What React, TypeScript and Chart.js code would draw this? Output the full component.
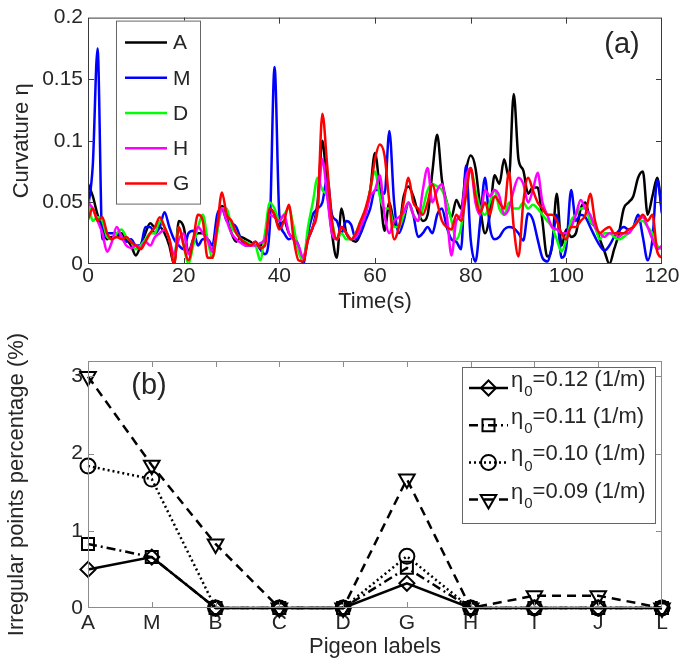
import React, { useEffect, useRef } from 'react';
import { Chart, registerables } from 'chart.js';
Chart.register(...registerables);

const FONT = "'Liberation Sans', Arial, Helvetica, sans-serif";
const TEXT = '#262626';

// ---------- Panel (a) data ----------
const timeSeconds = Array.from({ length: 121 }, (_, i) => i);
const timeTicks = [0, 20, 40, 60, 80, 100, 120];
const curvTicks = [0, 0.05, 0.1, 0.15, 0.2];
const seriesNames = ['A', 'M', 'D', 'H', 'G'];
const seriesColors = ['#000000', '#0000ff', '#00ff00', '#ff00ff', '#ff0000'];

const curvA = [0.065,0.055,0.04,0.03,0.02,0.022,0.022,0.025,0.02,0.015,
 0.007,0.015,0.025,0.033,0.03,0.03,0.025,0.015,0.0,0.035,
 0.03,0.01,0.02,0.025,0.025,0.02,0.01,0.035,0.047,0.04,
 0.025,0.018,0.022,0.02,0.018,0.015,0.015,0.022,0.045,0.04,
 0.03,0.035,0.025,0.02,0.012,0.005,0.02,0.03,0.05,0.1,
 0.06,0.025,0.005,0.045,0.025,0.02,0.018,0.025,0.04,0.06,
 0.09,0.06,0.027,0.05,0.033,0.03,0.055,0.063,0.055,0.042,
 0.035,0.04,0.075,0.105,0.068,0.05,0.038,0.052,0.045,0.075,
 0.088,0.078,0.046,0.025,0.04,0.072,0.065,0.085,0.07,0.138,
 0.085,0.076,0.057,0.062,0.062,0.035,0.006,0.014,0.057,0.015,
 0.028,0.022,0.025,0.045,0.05,0.035,0.03,0.02,0.01,0.0,
 0.012,0.025,0.045,0.05,0.055,0.07,0.075,0.04,0.055,0.07,
 0.042];

const curvM = [0.045,0.08,0.175,0.02,0.025,0.025,0.025,0.022,0.018,0.02,
 0.015,0.015,0.03,0.03,0.025,0.03,0.042,0.03,0.02,0.015,
 0.012,0.025,0.027,0.015,0.02,0.02,0.015,0.04,0.045,0.035,
 0.033,0.03,0.02,0.015,0.015,0.018,0.012,0.008,0.03,0.16,
 0.04,0.025,0.02,0.022,0.015,0.0,0.025,0.04,0.045,0.05,
 0.07,0.04,0.035,0.025,0.035,0.032,0.02,0.025,0.035,0.045,
 0.06,0.06,0.057,0.108,0.05,0.025,0.035,0.05,0.04,0.022,
 0.025,0.03,0.025,0.04,0.045,0.03,0.02,0.018,0.012,0.08,
 0.02,0.002,0.035,0.07,0.03,0.02,0.022,0.028,0.03,0.029,
 0.025,0.019,0.041,0.036,0.02,0.005,0.002,0.015,0.04,0.005,
 0.014,0.06,0.035,0.04,0.038,0.03,0.022,0.015,0.011,0.015,
 0.022,0.027,0.03,0.028,0.03,0.04,0.022,0.003,0.02,0.068,
 0.041];

const curvD = [0.053,0.035,0.038,0.035,0.022,0.02,0.025,0.028,0.022,0.018,
 0.012,0.015,0.02,0.025,0.025,0.035,0.03,0.02,0.005,0.03,
 0.015,0.0,0.015,0.03,0.04,0.02,0.005,0.025,0.045,0.045,
 0.03,0.025,0.02,0.018,0.016,0.015,0.003,0.025,0.05,0.045,
 0.035,0.04,0.045,0.03,0.01,0.003,0.03,0.05,0.07,0.06,
 0.055,0.035,0.02,0.025,0.02,0.02,0.025,0.035,0.04,0.06,
 0.075,0.055,0.045,0.045,0.03,0.03,0.04,0.05,0.04,0.035,
 0.045,0.06,0.065,0.063,0.06,0.05,0.035,0.02,0.03,0.06,
 0.078,0.06,0.045,0.04,0.05,0.06,0.045,0.04,0.05,0.045,
 0.045,0.05,0.045,0.048,0.045,0.04,0.035,0.03,0.02,0.01,
 0.02,0.035,0.04,0.045,0.045,0.035,0.03,0.02,0.025,0.025,
 0.022,0.02,0.022,0.025,0.03,0.035,0.035,0.03,0.025,0.015,
 0.012];

const curvH = [0.05,0.045,0.035,0.025,0.01,0.018,0.03,0.022,0.015,0.013,
 0.015,0.013,0.018,0.015,0.022,0.025,0.028,0.02,0.008,0.02,
 0.025,0.008,0.02,0.03,0.025,0.02,0.01,0.03,0.045,0.035,
 0.025,0.02,0.017,0.015,0.015,0.015,0.017,0.02,0.04,0.038,
 0.035,0.04,0.025,0.02,0.015,0.005,0.02,0.03,0.045,0.085,
 0.055,0.025,0.02,0.03,0.025,0.02,0.022,0.03,0.04,0.055,
 0.06,0.072,0.04,0.025,0.035,0.038,0.042,0.05,0.04,0.035,
 0.06,0.078,0.05,0.06,0.065,0.04,0.007,0.035,0.04,0.07,
 0.078,0.05,0.04,0.06,0.055,0.06,0.055,0.04,0.045,0.06,
 0.07,0.065,0.05,0.06,0.074,0.05,0.04,0.03,0.028,0.025,
 0.025,0.03,0.04,0.052,0.045,0.04,0.03,0.025,0.022,0.025,
 0.025,0.022,0.025,0.025,0.03,0.035,0.038,0.03,0.02,0.012,
 0.015];

const curvG = [0.036,0.045,0.035,0.038,0.025,0.02,0.022,0.02,0.022,0.018,
 0.015,0.012,0.018,0.025,0.03,0.038,0.03,0.02,0.0,0.03,
 0.015,0.003,0.02,0.04,0.035,0.005,0.005,0.03,0.058,0.04,
 0.035,0.025,0.02,0.017,0.015,0.018,0.013,0.015,0.045,0.04,
 0.028,0.035,0.048,0.02,0.003,0.002,0.02,0.03,0.045,0.122,
 0.08,0.035,0.02,0.03,0.025,0.02,0.025,0.035,0.045,0.06,
 0.085,0.097,0.088,0.05,0.02,0.03,0.05,0.07,0.05,0.045,
 0.04,0.05,0.065,0.05,0.035,0.03,0.028,0.04,0.035,0.055,
 0.078,0.055,0.042,0.05,0.04,0.055,0.05,0.045,0.075,0.03,
 0.006,0.05,0.07,0.06,0.05,0.045,0.04,0.04,0.035,0.025,
 0.02,0.03,0.03,0.035,0.04,0.057,0.035,0.025,0.028,0.03,
 0.025,0.025,0.025,0.028,0.03,0.035,0.04,0.035,0.04,0.01,
 0.005];

const seriesValues = [curvA, curvM, curvD, curvH, curvG];

// ---------- Panel (b) data ----------
const pigeonLabels = ['A', 'M', 'B', 'C', 'D', 'G', 'H', 'I', 'J', 'L'];
const pctTicks = [0, 1, 2, 3];
const eta012 = [0.5, 0.66, 0, 0, 0, 0.32, 0, 0, 0, 0];
const eta011 = [0.83, 0.66, 0, 0, 0, 0.52, 0, 0, 0, 0];
const eta010 = [1.84, 1.67, 0, 0, 0, 0.67, 0, 0, 0, 0];
const eta009 = [3.0, 1.85, 0.83, 0, 0, 1.67, 0, 0.16, 0.16, 0];
const etaLabels = ['0.12', '0.11', '0.10', '0.09'];
const etaValues = [eta012, eta011, eta010, eta009];
const etaStyles = [
  { dash: [] as number[], shape: 'rectRot', r: 7.5, rot: 0 },
  { dash: [9, 4, 2, 4], shape: 'rect', r: 8.5, rot: 0 },
  { dash: [2, 3], shape: 'circle', r: 7.5, rot: 0 },
  { dash: [9, 6], shape: 'triangle', r: 9, rot: 180 },
];

function drawMarker(ctx: CanvasRenderingContext2D, shape: string, x: number, y: number, r: number) {
  ctx.beginPath();
  if (shape === 'rectRot') {
    ctx.moveTo(x, y - r); ctx.lineTo(x + r, y); ctx.lineTo(x, y + r); ctx.lineTo(x - r, y); ctx.closePath();
  } else if (shape === 'rect') {
    const s = r * Math.SQRT1_2;
    ctx.rect(x - s, y - s, 2 * s, 2 * s);
  } else if (shape === 'circle') {
    ctx.arc(x, y, r, 0, Math.PI * 2);
  } else {
    const w = r * Math.sqrt(3) / 2;
    ctx.moveTo(x, y + r); ctx.lineTo(x + w, y - r / 2); ctx.lineTo(x - w, y - r / 2); ctx.closePath();
  }
  ctx.stroke();
}

function framePlugin(color: string, tickLen: number, xTickPixels: (c: any) => number[], yTickPixels: (c: any) => number[]) {
  return {
    id: 'frame',
    afterDatasetsDraw(chart: any) {
      const { ctx, chartArea: a } = chart;
      ctx.save();
      ctx.strokeStyle = color;
      ctx.lineWidth = 1;
      ctx.setLineDash([]);
      ctx.strokeRect(a.left + 0.5, a.top + 0.5, a.width - 1, a.height - 1);
      ctx.beginPath();
      for (const px of xTickPixels(chart)) {
        const x = Math.round(px) + 0.5;
        ctx.moveTo(x, a.bottom); ctx.lineTo(x, a.bottom - tickLen);
        ctx.moveTo(x, a.top); ctx.lineTo(x, a.top + tickLen);
      }
      for (const py of yTickPixels(chart)) {
        const y = Math.round(py) + 0.5;
        ctx.moveTo(a.left, y); ctx.lineTo(a.left + tickLen, y);
        ctx.moveTo(a.right, y); ctx.lineTo(a.right - tickLen, y);
      }
      ctx.stroke();
      ctx.restore();
    },
  };
}

const topLegendPlugin = {
  id: 'topLegend',
  afterDraw(chart: any) {
    const { ctx, chartArea: a } = chart;
    ctx.save();
    ctx.fillStyle = '#ffffff';
    ctx.strokeStyle = '#666666';
    ctx.lineWidth = 1;
    const bx = a.left + 28, by = a.top + 3, bw = 84, bh = 183;
    ctx.fillRect(bx, by, bw, bh);
    ctx.strokeRect(bx + 0.5, by + 0.5, bw, bh);
    ctx.font = `21px ${FONT}`;
    ctx.textBaseline = 'middle';
    ctx.textAlign = 'left';
    seriesNames.forEach((name, i) => {
      const y = a.top + 25 + i * 35.25;
      ctx.strokeStyle = seriesColors[i];
      ctx.lineWidth = 2.5;
      ctx.beginPath(); ctx.moveTo(a.left + 37, y); ctx.lineTo(a.left + 79, y); ctx.stroke();
      ctx.fillStyle = TEXT;
      ctx.fillText(name, a.left + 85, y + 1);
    });
    ctx.font = `29px ${FONT}`;
    ctx.textAlign = 'center';
    ctx.fillStyle = TEXT;
    ctx.fillText('(a)', a.right - 40, a.top + 27);
    ctx.restore();
  },
};

const bottomLegendPlugin = {
  id: 'bottomLegend',
  afterDraw(chart: any) {
    const { ctx, chartArea: a } = chart;
    ctx.save();
    const bx = a.left + 374, by = a.top + 6, bw = 193, bh = 156;
    ctx.fillStyle = '#ffffff';
    ctx.fillRect(bx, by, bw, bh);
    ctx.strokeStyle = '#666666';
    ctx.lineWidth = 1;
    ctx.strokeRect(bx + 0.5, by + 0.5, bw, bh);
    etaLabels.forEach((lab, i) => {
      const st = etaStyles[i];
      const ly = a.top + 27 + i * 37.2;
      ctx.strokeStyle = '#000';
      ctx.lineWidth = 2.5;
      ctx.setLineDash(st.dash);
      ctx.beginPath(); ctx.moveTo(bx + 7, ly); ctx.lineTo(bx + 46, ly); ctx.stroke();
      ctx.setLineDash([]);
      ctx.lineWidth = 2;
      drawMarker(ctx, st.shape, bx + 26.5, ly, st.r);
      ctx.fillStyle = TEXT;
      ctx.textBaseline = 'middle';
      ctx.textAlign = 'left';
      let tx = bx + 49;
      ctx.font = `22px ${FONT}`;
      ctx.fillText('η', tx, ly - 7);
      tx += ctx.measureText('η').width + 1;
      ctx.font = `15px ${FONT}`;
      ctx.fillText('0', tx, ly + 4);
      tx += ctx.measureText('0').width;
      ctx.font = `22px ${FONT}`;
      ctx.fillText(`=${lab} (1/m)`, tx, ly - 8);
    });
    ctx.font = `29px ${FONT}`;
    ctx.textAlign = 'center';
    ctx.textBaseline = 'middle';
    ctx.fillStyle = TEXT;
    ctx.fillText('(b)', a.left + 61, a.top + 25);
    ctx.restore();
  },
};

function topConfig(): any {
  return {
    type: 'line',
    data: {
      datasets: seriesValues.map((vals, i) => ({
        label: seriesNames[i],
        data: vals.map((v, j) => ({ x: timeSeconds[j], y: v })),
        borderColor: seriesColors[i],
        backgroundColor: seriesColors[i],
        borderWidth: 2.5,
        pointRadius: 0,
        cubicInterpolationMode: 'monotone',
        order: seriesValues.length - i,
        clip: 0,
        fill: false,
      })),
    },
    options: {
      animation: false,
      responsive: true,
      maintainAspectRatio: false,
      devicePixelRatio: 1,
      layout: { padding: { top: 16, right: 24, left: 0, bottom: 4 } },
      plugins: { legend: { display: false }, tooltip: { enabled: false } },
      scales: {
        x: {
          type: 'linear', min: 0, max: 120,
          afterBuildTicks: (s: any) => { s.ticks = timeTicks.map((v) => ({ value: v })); },
          afterFit: (s: any) => { s.height = 52; },
          grid: { display: false, drawTicks: false },
          border: { display: false },
          ticks: { font: { family: FONT, size: 21 }, color: TEXT, padding: 0, maxRotation: 0, autoSkip: false },
          title: { display: true, text: 'Time(s)', font: { family: FONT, size: 22 }, color: TEXT, padding: { top: 0, bottom: 1 } },
        },
        y: {
          type: 'linear', min: 0, max: 0.2,
          afterBuildTicks: (s: any) => { s.ticks = curvTicks.map((v) => ({ value: v })); },
          afterFit: (s: any) => { s.width = 88; },
          grid: { display: false, drawTicks: false },
          border: { display: false },
          ticks: { font: { family: FONT, size: 21 }, color: TEXT, padding: 5, callback: (v: any) => String(v) },
          title: { display: true, text: 'Curvature η', font: { family: FONT, size: 22 }, color: TEXT, padding: { top: 9, bottom: 0 } },
        },
      },
    },
    plugins: [
      framePlugin('#3a3a3a', 6,
        (c) => timeTicks.slice(1, -1).map((v) => c.scales.x.getPixelForValue(v)),
        (c) => curvTicks.slice(1, -1).map((v) => c.scales.y.getPixelForValue(v))),
      topLegendPlugin,
    ],
  };
}

function bottomConfig(): any {
  return {
    type: 'line',
    data: {
      labels: pigeonLabels,
      datasets: etaValues.map((vals, i) => ({
        label: `η0=${etaLabels[i]} (1/m)`,
        data: vals,
        borderColor: '#000',
        borderWidth: 2.5,
        borderDash: etaStyles[i].dash,
        pointStyle: etaStyles[i].shape,
        pointRadius: etaStyles[i].r,
        pointRotation: etaStyles[i].rot,
        pointBorderWidth: 2,
        pointBorderColor: '#000',
        pointBackgroundColor: 'rgba(0,0,0,0)',
        tension: 0,
        clip: false,
        fill: false,
        order: i,
      })),
    },
    options: {
      animation: false,
      responsive: true,
      maintainAspectRatio: false,
      devicePixelRatio: 1,
      layout: { padding: { top: 41, right: 24, left: 0, bottom: 2 } },
      plugins: { legend: { display: false }, tooltip: { enabled: false } },
      scales: {
        x: {
          type: 'category', offset: false,
          afterFit: (s: any) => { s.height = 56; },
          grid: { display: false, drawTicks: false },
          border: { display: false },
          ticks: { font: { family: FONT, size: 21 }, color: TEXT, padding: 3, maxRotation: 0, autoSkip: false },
          title: { display: true, text: 'Pigeon labels', font: { family: FONT, size: 22 }, color: TEXT, padding: { top: 0, bottom: 4 } },
        },
        y: {
          type: 'linear', min: 0, max: 3.2,
          afterBuildTicks: (s: any) => { s.ticks = pctTicks.map((v) => ({ value: v })); },
          afterFit: (s: any) => { s.width = 88; },
          grid: { display: false, drawTicks: false },
          border: { display: false },
          ticks: { font: { family: FONT, size: 21 }, color: TEXT, padding: 5 },
          title: { display: true, text: 'Irregular points percentage (%)', font: { family: FONT, size: 22 }, color: TEXT, padding: { top: 4, bottom: 0 } },
        },
      },
    },
    plugins: [
      framePlugin('#8c8c8c', 6,
        (c) => pigeonLabels.map((_, i) => c.scales.x.getPixelForTick(i)).slice(1, -1),
        (c) => pctTicks.slice(1).map((v) => c.scales.y.getPixelForValue(v))),
      bottomLegendPlugin,
    ],
  };
}

export default function App() {
  const topRef = useRef<HTMLCanvasElement>(null);
  const botRef = useRef<HTMLCanvasElement>(null);
  useEffect(() => {
    const c1 = new Chart(topRef.current as HTMLCanvasElement, topConfig());
    const c2 = new Chart(botRef.current as HTMLCanvasElement, bottomConfig());
    return () => { c1.destroy(); c2.destroy(); };
  }, []);
  return (
    <div style={{ position: 'absolute', left: 0, top: 0, width: 686, height: 666, background: '#fff' }}>
      <div style={{ position: 'absolute', left: 0, top: 0, width: 686, height: 320 }}>
        <canvas ref={topRef} />
      </div>
      <div style={{ position: 'absolute', left: 0, top: 320, width: 686, height: 346 }}>
        <canvas ref={botRef} />
      </div>
    </div>
  );
}
